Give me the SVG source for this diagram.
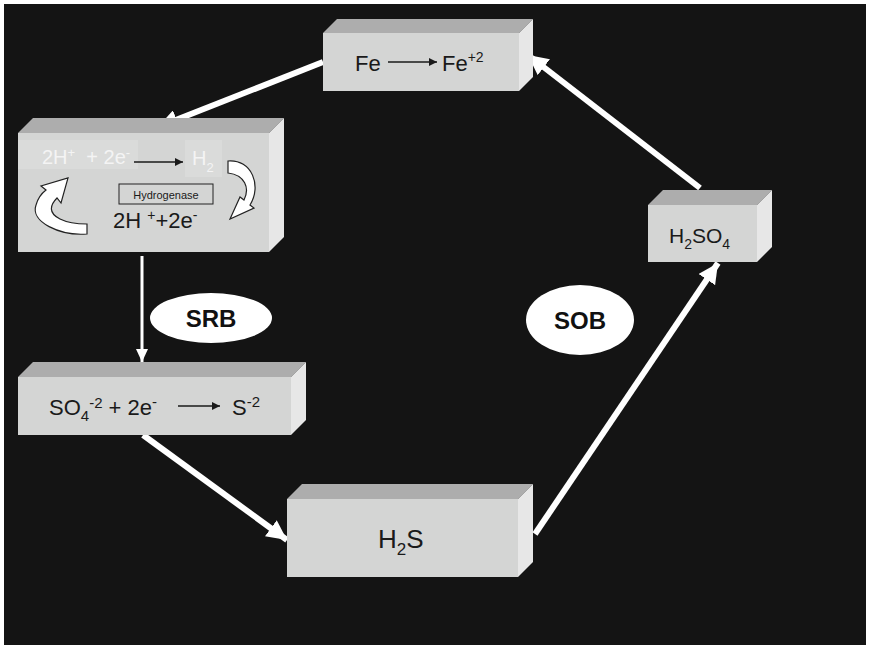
<svg xmlns="http://www.w3.org/2000/svg" width="869" height="645" viewBox="0 0 869 645">
<style>
.front{fill:#d4d5d4}
.top{fill:#adadad}
.side{fill:#e7e7e7}
.t{font-family:"Liberation Sans",Arial,sans-serif;fill:#1a1a1a}
.b{font-family:"Liberation Sans",Arial,sans-serif;font-weight:bold;fill:#111;text-anchor:middle}
.thick{stroke:#fff;stroke-width:6;fill:none}
.thin{stroke:#fff;stroke-width:3;fill:none}
.tarrow{stroke:#1a1a1a;stroke-width:1.3;fill:none}
.curl{fill:#fff;stroke:#222;stroke-width:1.2}
</style>
<defs>
<marker id="ah" markerUnits="userSpaceOnUse" markerWidth="22" markerHeight="20" refX="20" refY="10" orient="auto"><path d="M0,0 L20,10 L0,20 Z" fill="#fff"/></marker>
<marker id="ahs" markerUnits="userSpaceOnUse" markerWidth="14" markerHeight="14" refX="13" refY="7" orient="auto"><path d="M0,1 L13,7 L0,13 Z" fill="#fff"/></marker>
<marker id="ahk" markerUnits="userSpaceOnUse" markerWidth="10" markerHeight="10" refX="8" refY="4" orient="auto"><path d="M0,0 L8,4 L0,8 Z" fill="#1a1a1a"/></marker>
</defs>
<rect x="0" y="0" width="869" height="645" fill="#fff"/>
<rect x="4" y="4" width="862" height="641" fill="#141414"/>

<g id="connectors">
<line class="thick" x1="323" y1="62" x2="158" y2="127" marker-end="url(#ah)"/>
<line class="thick" x1="700" y1="188" x2="528" y2="55" marker-end="url(#ah)"/>
<line class="thin" x1="142" y1="256" x2="142" y2="362" marker-end="url(#ahs)"/>
<line class="thick" x1="143" y1="435" x2="287" y2="540" marker-end="url(#ah)"/>
<line class="thick" x1="535" y1="534" x2="718" y2="263" marker-end="url(#ah)"/>
</g>

<g id="fe">
<polygon class="top" points="323,33 337,19 533,19 519,33"/>
<polygon class="side" points="519,33 533,19 533,77 519,91"/>
<rect class="front" x="323" y="33" width="196" height="58"/>
<text class="t" x="355" y="71" font-size="22">Fe</text>
<line class="tarrow" x1="388" y1="62" x2="437" y2="62" marker-end="url(#ahk)"/>
<text class="t" x="442" y="71" font-size="22">Fe<tspan font-size="14" dy="-9">+2</tspan></text>
</g>

<g id="hydrogenase">
<polygon class="top" points="18,133 33,118 284,118 269,133"/>
<polygon class="side" points="269,133 284,118 284,237 269,252"/>
<rect class="front" x="18" y="133" width="251" height="119"/>
<rect x="18" y="140" width="120" height="29" fill="#dadbda"/>
<rect x="185" y="140" width="37" height="37" fill="#dadbda"/>
<text x="42" y="164" font-size="20" font-family="Liberation Sans,Arial,sans-serif" fill="#f4f4f4">2H<tspan font-size="13" dy="-7">+</tspan><tspan dy="7" xml:space="preserve">  + 2e</tspan><tspan font-size="13" dy="-7">-</tspan></text>
<line class="tarrow" x1="134" y1="162" x2="183" y2="162" marker-end="url(#ahk)"/>
<text x="192" y="165" font-size="20" font-family="Liberation Sans,Arial,sans-serif" fill="#f4f4f4">H<tspan font-size="13" dy="7">2</tspan></text>
<rect x="119" y="184" width="94" height="20" fill="none" stroke="#222" stroke-width="1"/>
<text class="t" x="166" y="198.5" font-size="11" text-anchor="middle">Hydrogenase</text>
<text class="t" x="113" y="228" font-size="22">2H <tspan font-size="14" dy="-8">+</tspan><tspan dy="8">+2e</tspan><tspan font-size="14" dy="-8">-</tspan></text>
<path class="curl" d="M87,224 L87,234 C60,236 30,222 36,205 C38,198 42,193 46,190 L41,186 L68,178 L61,203 L57,198 C50,205 48,213 60,219 C68,223 78,224 87,224 Z"/>
<path class="curl" d="M228,161 C252,159 262,186 250,205 L254,208 L230,219 L240,197 L244,200 C250,188 245,175 228,173 Z"/>
</g>

<g id="srb">
<ellipse cx="211" cy="318" rx="61" ry="25" fill="#fff"/>
<text class="b" x="211" y="327" font-size="24">SRB</text>
</g>

<g id="so4">
<polygon class="top" points="18,377 33,362 306,362 291,377"/>
<polygon class="side" points="291,377 306,362 306,420 291,435"/>
<rect class="front" x="18" y="377" width="273" height="58"/>
<text class="t" x="49" y="415" font-size="22">SO<tspan font-size="15" dy="6">4</tspan><tspan font-size="15" dy="-13">-2</tspan><tspan dy="7"> + 2e</tspan><tspan font-size="15" dy="-8">-</tspan></text>
<line class="tarrow" x1="178" y1="406" x2="220" y2="406" marker-end="url(#ahk)"/>
<text class="t" x="232" y="415" font-size="22">S<tspan font-size="15" dy="-8">-2</tspan></text>
</g>

<g id="h2s">
<polygon class="top" points="287,499 302,484 533,484 518,499"/>
<polygon class="side" points="518,499 533,484 533,562 518,577"/>
<rect class="front" x="287" y="499" width="231" height="78"/>
<text class="t" x="378" y="548" font-size="26">H<tspan font-size="17" dy="7">2</tspan><tspan dy="-7">S</tspan></text>
</g>

<g id="h2so4">
<polygon class="top" points="648,205 663,190 772,190 757,205"/>
<polygon class="side" points="757,205 772,190 772,247 757,262"/>
<rect class="front" x="648" y="205" width="109" height="57"/>
<text class="t" x="669" y="243" font-size="21">H<tspan font-size="14" dy="6">2</tspan><tspan dy="-6">SO</tspan><tspan font-size="14" dy="6">4</tspan></text>
</g>

<g id="sob">
<ellipse cx="580" cy="320" rx="54" ry="35" fill="#fff"/>
<text class="b" x="580" y="329" font-size="24">SOB</text>
</g>
</svg>
